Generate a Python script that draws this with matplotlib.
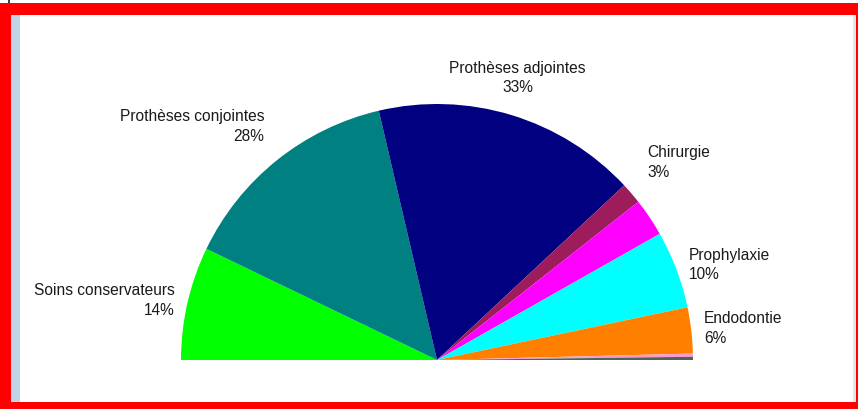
import numpy as np
import matplotlib
matplotlib.use("Agg")
import matplotlib.pyplot as plt
from matplotlib.patches import Rectangle

plt.rcParams['font.family'] = ['Liberation Sans', 'DejaVu Sans']

# Data (percent of total)
categories = ["Soins conservateurs", "Prothèses conjointes", "Prothèses adjointes",
              "Chirurgie", "", "Prophylaxie", "Endodontie", "", ""]
values = [14.3, 28.4, 33.4, 2.7, 4.8, 9.8, 5.8, 0.4, 0.4]
colors = ["#00ff00", "#008080", "#000080", "#9c1c5c", "#ff00ff",
          "#00ffff", "#ff8000", "#ff99cc", "#4a6655"]

W, H = 858, 409
fig = plt.figure(figsize=(W / 100, H / 100), dpi=100)
fig.patch.set_facecolor("white")

# pie geometry in pixels
cx, cy, R = 437, 360, 256
ax = fig.add_axes([0, 0, 1, 1])
total = sum(values)
fracs = [v / total * 0.5 for v in values]
ax.pie(fracs, normalize=False, startangle=180, counterclock=False,
       colors=colors, radius=1, center=(0, 0),
       wedgeprops=dict(linewidth=0, antialiased=True))
ax.set_aspect("auto")
ax.set_xlim(-cx / R, (W - cx) / R)
ax.set_ylim(-(H - cy) / R, cy / R)
ax.axis("off")

# labels
cum = 0.0
for name, v in zip(categories, values):
    mid = 180 - (cum + v / 2) / total * 180
    cum += v
    if not name:
        continue
    a = np.deg2rad(mid)
    c, s = np.cos(a), np.sin(a)
    ha = "left" if c > 0.3 else ("right" if c < -0.3 else "center")
    va = "bottom" if s > 0.6 else "center"
    r = 1.08 if va == "bottom" else 1.05
    pct = f"{round(v / total * 100):d}%"
    ax.text(r * c, r * s, f"{name}\n{pct}", ha=ha, va=va, multialignment=ha,
            fontsize=11.2, color="#1a1a1a", linespacing=1.4)

# frame decoration (pixels -> figure fraction)
def rect(x0, y0, x1, y1, color):
    fig.add_artist(Rectangle((x0 / W, 1 - y1 / H), (x1 - x0) / W, (y1 - y0) / H,
                             transform=fig.transFigure, facecolor=color,
                             edgecolor="none", zorder=10))

rect(11, 15, 20, 402, "#c0d4e8")
rect(853, 15, 856, 402, "#e4e4e4")
rect(0, 3, 856, 15, "#ff0000")
rect(0, 3, 11, 409, "#ff0000")
rect(0, 402, 858, 409, "#ff0000")
rect(856, 3, 858, 409, "#ff0000")
rect(8, 0, 10, 3, "#404040")

fig.savefig("out.png", dpi=100, facecolor="white")
